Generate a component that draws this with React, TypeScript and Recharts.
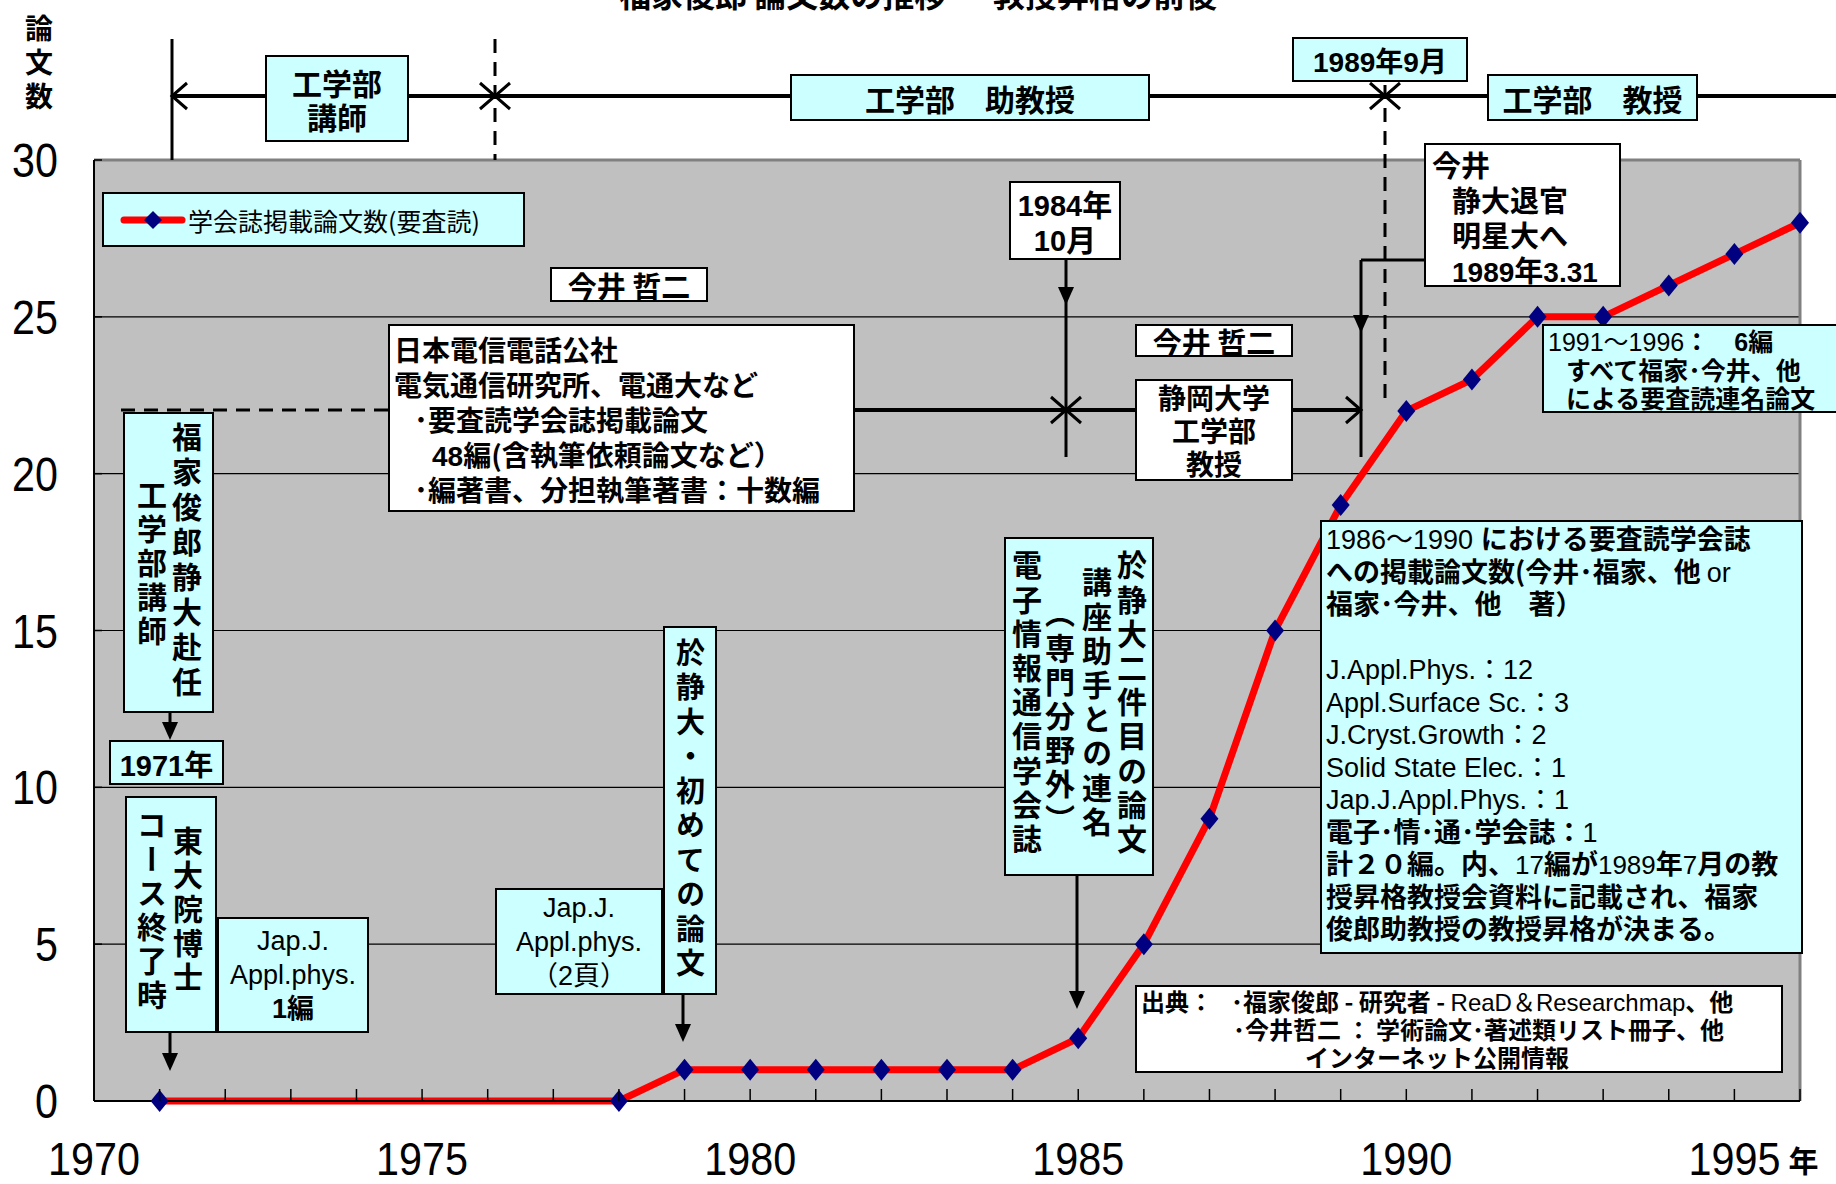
import React from 'react';
import { LineChart, Line, XAxis, YAxis, CartesianGrid, Legend, ReferenceLine } from 'recharts';

// 年ごとの累計論文数（1972〜1977は点なし）
const YEARS = [1971, 1978, 1979, 1980, 1981, 1982, 1983, 1984, 1985, 1986, 1987, 1988, 1989, 1990, 1991, 1992, 1993, 1994, 1995, 1996];
const PAPERS = [0, 0, 1, 1, 1, 1, 1, 1, 2, 5, 9, 15, 19, 22, 23, 25, 25, 26, 27, 28];
const YEAR_TICKS = [1970, 1971, 1972, 1973, 1974, 1975, 1976, 1977, 1978, 1979, 1980, 1981, 1982, 1983, 1984, 1985, 1986, 1987, 1988, 1989, 1990, 1991, 1992, 1993, 1994, 1995, 1996];
const LABEL_YEARS = [1970, 1975, 1980, 1985, 1990, 1995];
const COUNT_TICKS = [0, 5, 10, 15, 20, 25, 30];
const SERIES_NAME = '学会誌掲載論文数(要査読)';

const data = YEARS.map((year, i) => ({ year, papers: PAPERS[i] }));

const W = 1836;
const H = 1184;
const CYAN = '#CCFFFF';
const JP = "'Noto Sans CJK JP', sans-serif";
const ARIAL = "'Liberation Sans', 'Noto Sans CJK JP', sans-serif";

// 細めの数字（Excel の狭い書体に寄せる）
const XTick = (props: any) => {
  const { x, y, payload } = props;
  const v = payload.value;
  return (
    <g>
      <line x1={x} x2={x} y1={y} y2={y - 12} stroke="#000" strokeWidth={1.5} />
      {LABEL_YEARS.includes(v) && (
        <g transform={`translate(${x},${y + 58}) scale(0.88,1)`}>
          <text x={0} y={0} textAnchor="middle" dominantBaseline="central" fontFamily={ARIAL} fontSize={47} fill="#000">
            {v}
          </text>
        </g>
      )}
      {v === 1995 && (
        <text x={x + 54} y={y + 58} textAnchor="start" dominantBaseline="central" fontFamily={JP} fontWeight={700} fontSize={30} fill="#000">
          年
        </text>
      )}
    </g>
  );
};

const YTick = (props: any) => {
  const { x, y, payload } = props;
  return (
    <g>
      <line x1={x} x2={x + 8} y1={y} y2={y} stroke="#000" strokeWidth={1.5} />
      <g transform={`translate(${x - 36},${y}) scale(0.86,1)`}>
        <text x={0} y={0} textAnchor="end" dominantBaseline="central" fontFamily={ARIAL} fontSize={48} fill="#000">
          {payload.value}
        </text>
      </g>
    </g>
  );
};

const Diamond = (props: any) => {
  const { cx, cy } = props;
  if (cx == null || cy == null) return null;
  return <polygon points={`${cx},${cy - 11} ${cx + 9},${cy} ${cx},${cy + 11} ${cx - 9},${cy}`} fill="#000080" />;
};

const LegendBox = () => (
  <div style={{ width: 423, height: 55, background: CYAN, border: '2px solid #000', boxSizing: 'border-box', display: 'flex', alignItems: 'center' }}>
    <svg width={66} height={30} style={{ marginLeft: 16 }}>
      <line x1={4} y1={15} x2={62} y2={15} stroke="#FF0000" strokeWidth={7} strokeLinecap="round" />
      <polygon points="33,6 42,15 33,24 24,15" fill="#000080" />
    </svg>
    <span style={{ fontFamily: JP, fontSize: 25, marginLeft: 2, whiteSpace: 'nowrap' }}>{SERIES_NAME}</span>
  </div>
);

const Box = ({ x, y, w, h, fill = CYAN, center = false, style = {}, children }: any) => (
  <div
    style={{
      position: 'absolute', left: x, top: y, width: w, height: h, background: fill,
      border: '2px solid #000', boxSizing: 'border-box', whiteSpace: 'pre', color: '#000',
      fontFamily: JP, fontWeight: 700,
      ...(center ? { display: 'flex', flexDirection: 'column', alignItems: 'center', justifyContent: 'center', textAlign: 'center' } : {}),
      ...style,
    }}
  >
    {children}
  </div>
);

// 行の高さを固定した一行
const Ln = ({ h, style = {}, children }: any) => (
  <div style={{ height: h, lineHeight: `${h}px`, whiteSpace: 'pre', overflow: 'visible', ...style }}>{children}</div>
);

const Lat = ({ size, bold = false, children }: any) => (
  <span style={{ fontFamily: ARIAL, fontWeight: bold ? 700 : 400, fontSize: size, lineHeight: 1 }}>{children}</span>
);

const VCol = ({ x, y, text, size = 30, pitch = 34.5 }: any) => (
  <div
    style={{
      position: 'absolute', left: x - size / 2, top: y, writingMode: 'vertical-rl', fontFamily: JP, fontWeight: 700,
      fontSize: size, lineHeight: `${size}px`, letterSpacing: pitch - size, whiteSpace: 'nowrap', color: '#000',
    }}
  >
    {text}
  </div>
);

const chev = (x: number, y: number, dir: number, key: string) => (
  <polyline key={key} points={`${x - dir * 15},${y - 13} ${x},${y} ${x - dir * 15},${y + 13}`} fill="none" stroke="#000" strokeWidth={3} />
);
const tri = (x: number, tip: number, key: string) => (
  <polygon key={key} points={`${x - 8},${tip - 18} ${x + 8},${tip - 18} ${x},${tip}`} fill="#000" />
);

export default function App() {
  return (
    <div style={{ position: 'absolute', left: 0, top: 0, width: W, height: H, background: '#fff', overflow: 'hidden' }}>
      <LineChart width={W} height={H} data={data} margin={{ top: 160, right: 36, bottom: 0, left: 34 }}>
        <CartesianGrid vertical={false} fill="#C0C0C0" stroke="#000" strokeWidth={1.2} />
        <XAxis
          dataKey="year" type="number" domain={[1970, 1996]} ticks={YEAR_TICKS} interval={0} height={83}
          tickSize={0} tickMargin={0} tickLine={false} tick={<XTick />} axisLine={{ stroke: '#000', strokeWidth: 2 }}
        />
        <YAxis
          type="number" domain={[0, 30]} ticks={COUNT_TICKS} interval={0} width={60}
          tickSize={0} tickMargin={0} tickLine={false} tick={<YTick />} axisLine={{ stroke: '#000', strokeWidth: 2 }}
        />
        <ReferenceLine y={30} stroke="#808080" strokeWidth={3} />
        <ReferenceLine x={1996} stroke="#808080" strokeWidth={3} />
        <Legend
          layout="horizontal" verticalAlign="middle" align="center"
          wrapperStyle={{ left: 102, top: 192, width: 423, height: 55 }}
          content={() => <LegendBox />}
        />
        <Line
          type="linear" dataKey="papers" name={SERIES_NAME} stroke="#FF0000" strokeWidth={7}
          dot={Diamond} activeDot={false} isAnimationActive={false}
        />
      </LineChart>

      {/* 上端で切れているタイトル */}
      <div style={{ position: 'absolute', left: 0, width: W, top: -23, height: 32, lineHeight: '32px', textAlign: 'center', fontFamily: JP, fontWeight: 700, fontSize: 32 }}>
        福家俊郎 論文数の推移 ― 教授昇格の前後
      </div>

      {/* 縦軸タイトル */}
      <VCol x={39} y={14} text="論文数" size={28} pitch={34} />

      <svg width={W} height={H} style={{ position: 'absolute', left: 0, top: 0 }}>
        {/* 上部の職歴タイムライン */}
        <line x1={172} y1={39} x2={172} y2={160} stroke="#000" strokeWidth={3} />
        <line x1={495} y1={39} x2={495} y2={160} stroke="#000" strokeWidth={3} strokeDasharray="14 9" />
        <line x1={1385} y1={39} x2={1385} y2={405} stroke="#000" strokeWidth={3} strokeDasharray="14 9" />
        <line x1={172} y1={96} x2={W} y2={96} stroke="#000" strokeWidth={4} />
        {chev(172, 96, -1, 'a')}
        {chev(495, 96, 1, 'b')}
        {chev(495, 96, -1, 'c')}
        {chev(1385, 96, 1, 'd')}
        {chev(1385, 96, -1, 'e')}

        {/* 今井 哲二 の経歴線 */}
        <line x1={121} y1={410} x2={388} y2={410} stroke="#000" strokeWidth={3} strokeDasharray="14 9" />
        <line x1={855} y1={410} x2={1361} y2={410} stroke="#000" strokeWidth={4} />
        {chev(1066, 410, 1, 'f')}
        {chev(1066, 410, -1, 'g')}
        {chev(1361, 410, 1, 'h')}
        <line x1={1066} y1={260} x2={1066} y2={457} stroke="#000" strokeWidth={3} />
        {tri(1066, 305, 'i')}
        <line x1={1361} y1={260} x2={1361} y2={457} stroke="#000" strokeWidth={3} />
        <line x1={1361} y1={260} x2={1424} y2={260} stroke="#000" strokeWidth={3} />
        {tri(1361, 333, 'j')}

        {/* 下向き矢印 */}
        <line x1={170} y1={713} x2={170} y2={730} stroke="#000" strokeWidth={3} />
        {tri(170, 740, 'k')}
        <line x1={170} y1={1033} x2={170} y2={1060} stroke="#000" strokeWidth={3} />
        {tri(170, 1071, 'l')}
        <line x1={683} y1={995} x2={683} y2={1030} stroke="#000" strokeWidth={3} />
        {tri(683, 1042, 'm')}
        <line x1={1077} y1={876} x2={1077} y2={998} stroke="#000" strokeWidth={3} />
        {tri(1077, 1009, 'n')}
      </svg>

      {/* タイムラインの箱 */}
      <Box x={265} y={55} w={144} h={87} center style={{ fontSize: 30, lineHeight: '34px' }}>{'工学部\n講師'}</Box>
      <Box x={790} y={74} w={360} h={47} center style={{ fontSize: 30 }}>工学部　助教授</Box>
      <Box x={1292} y={37} w={176} h={45} center style={{ fontSize: 28 }}>
        <div><Lat size={28} bold>1989</Lat>年<Lat size={28} bold>9</Lat>月</div>
      </Box>
      <Box x={1487} y={74} w={211} h={47} center style={{ fontSize: 30 }}>工学部　教授</Box>

      {/* 今井 関連 */}
      <Box x={550} y={267} w={158} h={35} fill="#fff" center style={{ fontSize: 29 }}>今井 哲二</Box>
      <Box x={388} y={324} w={467} h={188} fill="#fff" style={{ fontSize: 28, paddingTop: 6, paddingLeft: 4 }}>
        <Ln h={35}>日本電信電話公社</Ln>
        <Ln h={35}>電気通信研究所、電通大など</Ln>
        <Ln h={35} style={{ paddingLeft: 20 }}>･要査読学会誌掲載論文</Ln>
        <Ln h={35} style={{ paddingLeft: 38 }}><Lat size={28} bold>48</Lat>編(含執筆依頼論文など）</Ln>
        <Ln h={35} style={{ paddingLeft: 20 }}>･編著書、分担執筆著書：十数編</Ln>
      </Box>
      <Box x={1009} y={181} w={112} h={79} fill="#fff" center style={{ fontSize: 30 }}>
        <Ln h={35}><Lat size={29} bold>1984</Lat>年</Ln>
        <Ln h={35}><Lat size={29} bold>10</Lat>月</Ln>
      </Box>
      <Box x={1135} y={324} w={158} h={33} fill="#fff" center style={{ fontSize: 29 }}>今井 哲二</Box>
      <Box x={1135} y={379} w={158} h={102} fill="#fff" center style={{ fontSize: 28, lineHeight: '33px' }}>{'静岡大学\n工学部\n教授'}</Box>
      <Box x={1424} y={143} w={197} h={144} fill="#fff" style={{ fontSize: 29, paddingTop: 2, paddingLeft: 6 }}>
        <Ln h={35}>今井</Ln>
        <Ln h={35} style={{ paddingLeft: 20 }}>静大退官</Ln>
        <Ln h={35} style={{ paddingLeft: 20 }}>明星大へ</Ln>
        <Ln h={35} style={{ paddingLeft: 20 }}><Lat size={28} bold>1989</Lat>年<Lat size={28} bold>3.31</Lat></Ln>
      </Box>
      <Box x={1542} y={324} w={300} h={89} style={{ fontSize: 25, paddingLeft: 4 }}>
        <Ln h={28.5}><Lat size={25}>1991～1996</Lat>：　<Lat size={25} bold>6</Lat>編</Ln>
        <Ln h={28.5} style={{ paddingLeft: 18 }}>すべて福家･今井、他</Ln>
        <Ln h={28.5} style={{ paddingLeft: 18 }}>による要査読連名論文</Ln>
      </Box>

      {/* 左側の縦書きの箱 */}
      <Box x={123} y={412} w={91} h={301} />
      <VCol x={187} y={422} text="福家俊郎静大赴任" size={30} pitch={35} />
      <VCol x={152} y={480} text="工学部講師" size={30} pitch={34} />
      <Box x={109} y={740} w={115} h={45} center style={{ fontSize: 29, fontFamily: ARIAL }}>1971年</Box>
      <Box x={125} y={796} w={92} h={237} />
      <VCol x={188} y={826} text="東大院博士" size={30} pitch={34} />
      <VCol x={152} y={810} text="コース終了時" size={30} pitch={34} />
      <Box x={217} y={917} w={152} h={116} center style={{ fontSize: 27, fontFamily: ARIAL, fontWeight: 400 }}>
        <Ln h={34}>Jap.J.</Ln>
        <Ln h={34}>Appl.phys.</Ln>
        <Ln h={34} style={{ fontWeight: 700 }}>1編</Ln>
      </Box>
      <Box x={495} y={888} w={168} h={107} center style={{ fontSize: 27, fontFamily: ARIAL, fontWeight: 400 }}>
        <Ln h={34}>Jap.J.</Ln>
        <Ln h={34}>Appl.phys.</Ln>
        <Ln h={34}>（2頁）</Ln>
      </Box>
      <Box x={663} y={626} w={54} h={369} />
      <VCol x={690} y={638} text="於静大・初めての論文" size={29} pitch={34.5} />

      {/* 1985年の縦書き */}
      <Box x={1004} y={537} w={150} h={339} />
      <VCol x={1132} y={550} text="於静大二件目の論文" size={30} pitch={34.2} />
      <VCol x={1097} y={567} text="講座助手との連名" size={30} pitch={34.2} />
      <VCol x={1060} y={598} text="（専門分野外）" size={30} pitch={34.2} />
      <VCol x={1027} y={550} text="電子情報通信学会誌" size={30} pitch={34.2} />

      {/* 1986〜1990 の説明 */}
      <Box x={1320} y={520} w={483} h={434} style={{ fontSize: 27, paddingLeft: 4 }}>
        <Ln h={32.5}><Lat size={27}>1986～1990 </Lat>における要査読学会誌</Ln>
        <Ln h={32.5}>への掲載論文数(今井･福家、他 <Lat size={27}>or</Lat></Ln>
        <Ln h={32.5}>福家･今井、他　著）</Ln>
        <Ln h={32.5}>{' '}</Ln>
        <Ln h={32.5}><Lat size={27}>J.Appl.Phys.：12</Lat></Ln>
        <Ln h={32.5}><Lat size={27}>Appl.Surface Sc.：3</Lat></Ln>
        <Ln h={32.5}><Lat size={27}>J.Cryst.Growth：2</Lat></Ln>
        <Ln h={32.5}><Lat size={27}>Solid State Elec.：1</Lat></Ln>
        <Ln h={32.5}><Lat size={27}>Jap.J.Appl.Phys.：1</Lat></Ln>
        <Ln h={32.5}>電子･情･通･学会誌：<Lat size={27}>1</Lat></Ln>
        <Ln h={32.5}>計２０編。内、<Lat size={26}>17</Lat>編が<Lat size={26}>1989</Lat>年<Lat size={26}>7</Lat>月の教</Ln>
        <Ln h={32.5}>授昇格教授会資料に記載され、福家</Ln>
        <Ln h={32.5}>俊郎助教授の教授昇格が決まる。</Ln>
      </Box>

      {/* 出典 */}
      <Box x={1135} y={985} w={648} h={88} fill="#fff" style={{ fontSize: 24, paddingLeft: 4 }}>
        <Ln h={28}>出典：<span style={{ paddingLeft: 18 }}>･福家俊郎 - 研究者 - <Lat size={24}>ReaD＆Researchmap</Lat>、他</span></Ln>
        <Ln h={28} style={{ paddingLeft: 92 }}>･今井哲二 ： 学術論文･著述類リスト冊子、他</Ln>
        <Ln h={28} style={{ paddingLeft: 164 }}>インターネット公開情報</Ln>
      </Box>
    </div>
  );
}
